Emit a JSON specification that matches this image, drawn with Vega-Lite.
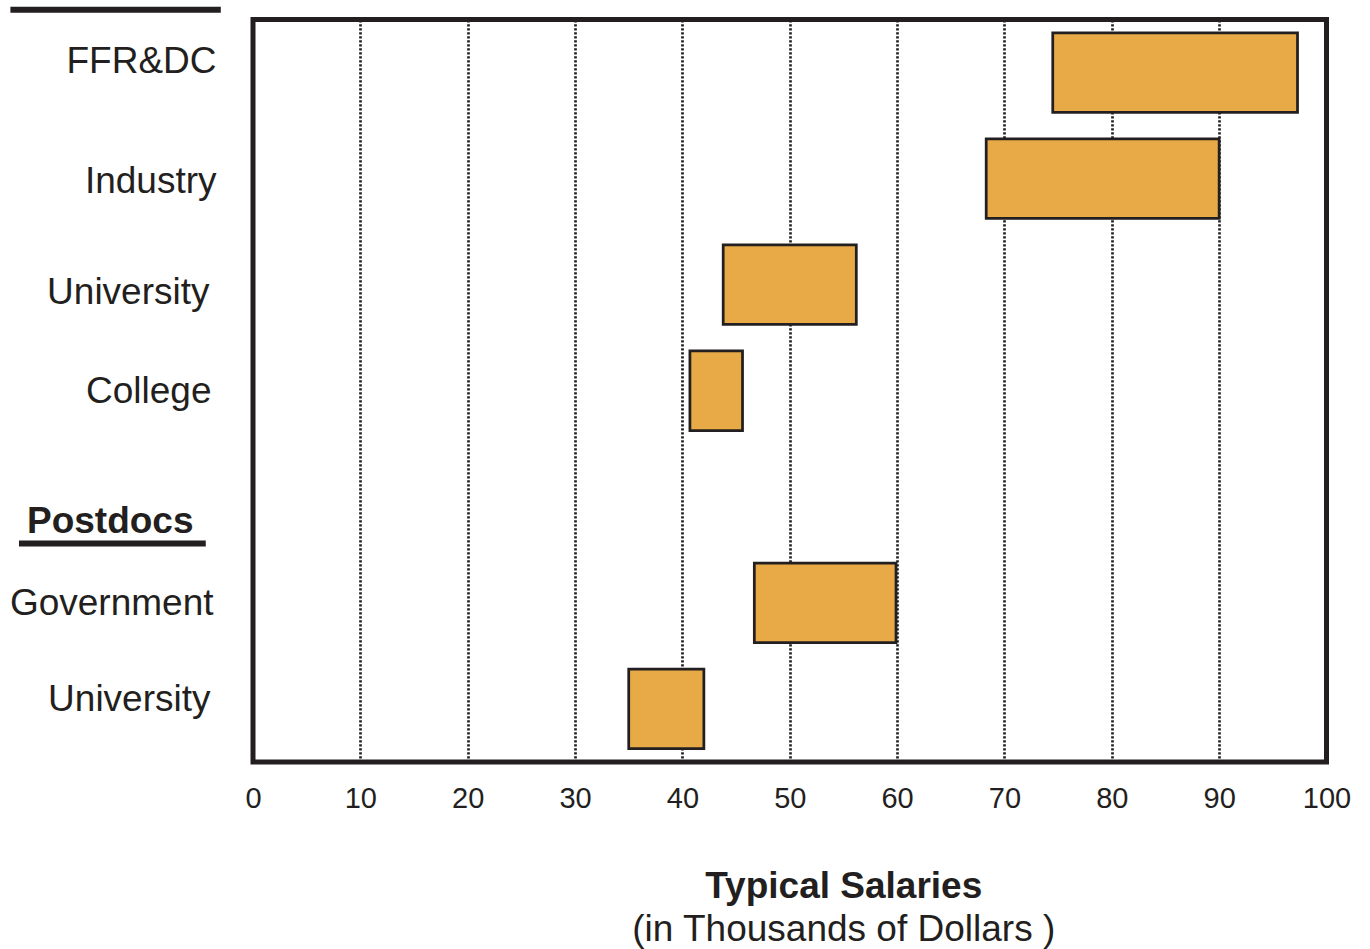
{
  "$schema": "https://vega.github.io/schema/vega-lite/v6.json",
  "width": 1073.5,
  "height": 742.5,
  "autosize": "none",
  "padding": {"left": 253, "top": 19.5, "right": 43.5, "bottom": 187},
  "background": "white",
  "config": {"view": {"stroke": "#231F20", "strokeWidth": 5}, "font": "Liberation Sans"},
  "title": {
    "text": "Typical Salaries",
    "subtitle": "(in Thousands of Dollars )",
    "orient": "bottom",
    "anchor": "middle",
    "frame": "group",
    "dx": 54,
    "offset": 56,
    "font": "Liberation Sans",
    "fontSize": 37,
    "fontWeight": "bold",
    "color": "#231F20",
    "subtitleFont": "Liberation Sans",
    "subtitleFontSize": 37,
    "subtitleFontWeight": "normal",
    "subtitleColor": "#231F20",
    "subtitlePadding": 6
  },
  "layer": [
    {
      "data": {
        "values": [
          {"sector": "FFR&DC", "low": 74.5, "high": 97.3},
          {"sector": "Industry", "low": 68.3, "high": 90.0},
          {"sector": "University", "low": 43.8, "high": 56.2},
          {"sector": "College", "low": 40.7, "high": 45.6},
          {"sector": "Government", "low": 46.7, "high": 59.9},
          {"sector": "University (postdocs)", "low": 35.0, "high": 42.0}
        ]
      },
      "mark": {"type": "bar", "fill": "#E8AA46", "stroke": "#231F20", "strokeWidth": 2.75},
      "encoding": {
        "y": {
          "field": "sector",
          "type": "nominal",
          "scale": {
            "domain": ["FFR&DC", "Industry", "University", "College", "Postdocs", "Government", "University (postdocs)"],
            "paddingInner": 0.25,
            "paddingOuter": 0.125
          },
          "axis": {
            "title": null,
            "domain": false,
            "ticks": false,
            "grid": false,
            "labelFont": "Liberation Sans",
            "labelFontSize": 37,
            "labelColor": "#231F20",
            "labelLimit": 400,
            "labelExpr": "datum.value == 'University (postdocs)' ? 'University' : datum.value",
            "labelFontWeight": {"condition": {"test": "datum.value == 'Postdocs'", "value": "bold"}, "value": "normal"},
            "labelPadding": {
              "condition": [
                {"test": "datum.value == 'Postdocs'", "value": 60},
                {"test": "datum.value == 'FFR&DC'", "value": 37},
                {"test": "datum.value == 'Industry'", "value": 37},
                {"test": "datum.value == 'University'", "value": 44},
                {"test": "datum.value == 'College'", "value": 42},
                {"test": "datum.value == 'University (postdocs)'", "value": 43}
              ],
              "value": 40
            },
            "labelOffset": {
              "condition": [
                {"test": "datum.value == 'Postdocs'", "value": 25},
                {"test": "datum.value == 'FFR&DC'", "value": -11},
                {"test": "datum.value == 'Industry'", "value": 3},
                {"test": "datum.value == 'University'", "value": 8},
                {"test": "datum.value == 'College'", "value": 1},
                {"test": "datum.value == 'Government'", "value": 1},
                {"test": "datum.value == 'University (postdocs)'", "value": -9}
              ],
              "value": 0
            }
          }
        },
        "x": {
          "field": "low",
          "type": "quantitative",
          "scale": {"domain": [0, 100], "nice": false},
          "axis": {
            "title": null,
            "values": [0, 10, 20, 30, 40, 50, 60, 70, 80, 90, 100],
            "domain": false,
            "ticks": false,
            "grid": true,
            "gridColor": "#231F20",
            "gridDash": [2.3, 1.7],
            "gridWidth": 2.7,
            "labelFont": "Liberation Sans",
            "labelFontSize": 29,
            "labelPadding": 22,
            "labelColor": "#231F20",
            "labelFlush": false
          }
        },
        "x2": {"field": "high"}
      }
    },
    {
      "data": {"values": [{}]},
      "mark": {"type": "rule", "stroke": "#231F20", "strokeWidth": 6, "strokeCap": "butt"},
      "encoding": {
        "x": {"datum": -21.8},
        "x2": {"datum": -4.4},
        "y": {"datum": "Postdocs", "bandPosition": 1.087}
      }
    },
    {
      "data": {"values": [{}]},
      "mark": {"type": "rule", "stroke": "#231F20", "strokeWidth": 6, "strokeCap": "butt"},
      "encoding": {
        "x": {"datum": -22.6},
        "x2": {"datum": -3.0},
        "y": {"datum": "FFR&DC", "bandPosition": -0.29}
      }
    }
  ]
}
